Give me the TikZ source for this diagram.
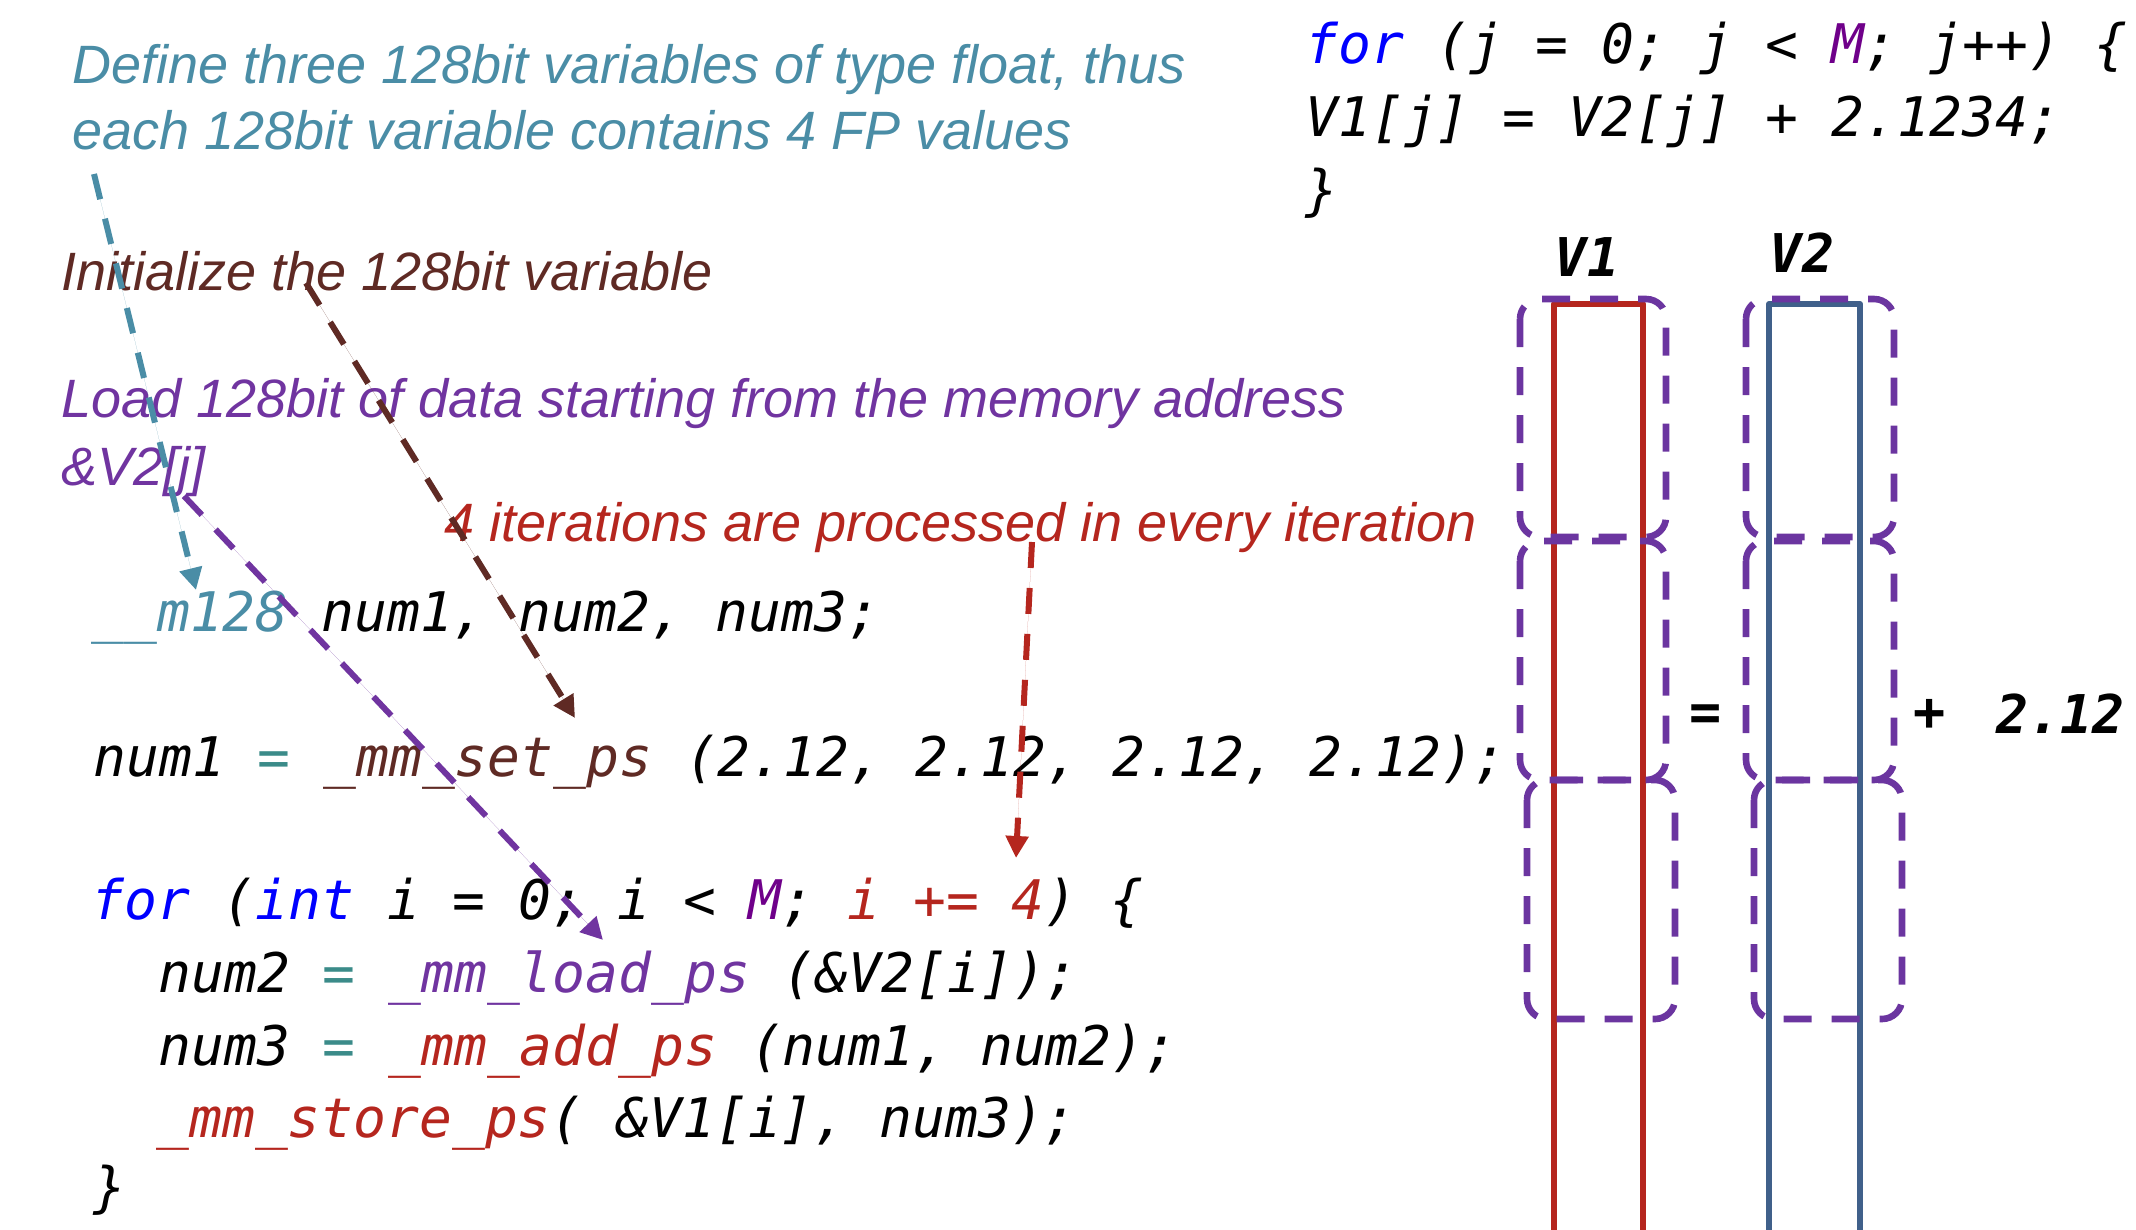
\documentclass[tikz,border=0pt]{standalone}
\usepackage{fontspec}
\setmainfont{Liberation Sans}
\newfontfamily\codefont{DejaVu Sans Mono}[ItalicFont={DejaVu Sans Mono Oblique},BoldFont={DejaVu Sans Mono Bold},BoldItalicFont={DejaVu Sans Mono Bold Oblique}]
\usetikzlibrary{arrows.meta}

\definecolor{noteteal}{HTML}{4A8DA6}
\definecolor{opteal}{HTML}{3B8B89}
\definecolor{notebrown}{HTML}{5F2A24}
\definecolor{notepurple}{HTML}{7034A0}
\definecolor{notered}{HTML}{B5261E}
\definecolor{kwblue}{HTML}{0000FF}
\definecolor{macropurple}{HTML}{6F008A}
\definecolor{colblue}{HTML}{40608A}
\definecolor{lanepurple}{HTML}{6B35A0}

\tikzset{
  note/.style={anchor=base west, inner sep=0pt, font=\fontsize{27}{32}\selectfont\itshape},
  codeline/.style={anchor=base west, inner sep=0pt, font=\codefont\fontsize{27.3}{32}\selectfont\itshape},
  boldcode/.style={anchor=base, inner sep=0pt, font=\codefont\fontsize{26.7}{32}\selectfont\bfseries\itshape},
  callout/.style={line width=3pt, dash pattern=on 13pt off 10pt, -{Triangle[length=11pt,width=11pt]}},
  lane/.style={draw=lanepurple, line width=3.3pt, dash pattern=on 14pt off 10pt, rounded corners=10pt},
  column/.style={line width=3pt, line join=round}
}

\begin{document}
\begin{tikzpicture}[x=0.5pt,y=-0.5pt]
\useasboundingbox (0,0) rectangle (2136,1230);

% explanatory notes
\node[note, text=noteteal] (def1) at (72,84) {Define three 128bit variables of type float, thus};
\node[note, text=noteteal] (def2) at (72,150) {each 128bit variable contains 4 FP values};
\node[note, text=notebrown] (init) at (61,291) {Initialize the 128bit variable};
\node[note, text=notepurple] (load1) at (61,417) {Load 128bit of data starting from the memory address};
\node[note, text=notepurple] (load2) at (61,485) {\&V2[j]};
\node[note, text=notered] (iter) at (444,541) {4 iterations are processed in every iteration};

% scalar loop
\node[codeline] (sc1) at (1305,64) {\textcolor{kwblue}{for} (j = 0; j < \textcolor{macropurple}{M}; j++) \{};
\node[codeline] (sc2) at (1305,137) {V1[j] = V2[j] + 2.1234;};
\node[codeline] (sc3) at (1305,210) {\}};

% SSE version
\node[codeline] (c1) at (91,631) {\textcolor{noteteal}{\_\_m128} num1, num2, num3;};
\node[codeline] (c2) at (93,776) {num1 \textcolor{opteal}{=} \textcolor{notebrown}{\_mm\_set\_ps} (2.12, 2.12, 2.12, 2.12);};
\node[codeline] (c3) at (91,919) {\textcolor{kwblue}{for} (\textcolor{kwblue}{int} i = 0; i < \textcolor{macropurple}{M}; \textcolor{notered}{i += 4}) \{};
\node[codeline] (c4) at (158,992) {num2 \textcolor{opteal}{=} \textcolor{notepurple}{\_mm\_load\_ps} (\&V2[i]);};
\node[codeline] (c5) at (158,1065) {num3 \textcolor{opteal}{=} \textcolor{notered}{\_mm\_add\_ps} (num1, num2);};
\node[codeline] (c6) at (156,1137) {\textcolor{notered}{\_mm\_store\_ps}( \&V1[i], num3);};
\node[codeline] (c7) at (93,1206) {\}};

% arrays V1 and V2
\draw[column, draw=notered] (1554,1260) -- (1554,304) -- (1643,304) -- (1643,1260);
\draw[column, draw=colblue] (1769,1260) -- (1769,304) -- (1860,304) -- (1860,1260);

% groups of four elements
\draw[lane] (1520,299) rectangle (1666,537);
\draw[lane] (1520,541) rectangle (1666,780);
\draw[lane] (1527,780) rectangle (1675,1019);
\draw[lane] (1746,299) rectangle (1894,537);
\draw[lane] (1746,541) rectangle (1894,780);
\draw[lane] (1754,780) rectangle (1902,1019);

\node[boldcode] (v1) at (1587,277) {V1};
\node[boldcode] (v2) at (1802,272) {V2};
\node[boldcode] (eq) at (1706,730) {=};
\node[boldcode] (plus) at (1930,730) {+};
\node[boldcode, anchor=base west] (cst) at (1996,733) {2.12};

% callout arrows
\coordinate (defTail) at (94,174);
\coordinate (defTip) at (196,590);
\coordinate (initTail) at (306,283);
\coordinate (initTip) at (575,718);
\coordinate (loadTail) at (184,496);
\coordinate (loadTip) at (603,940);
\coordinate (iterTail) at (1032,542);
\coordinate (iterTip) at (1016,858);
\draw[callout, draw=noteteal, fill=noteteal] (defTail) -- (defTip);
\draw[callout, draw=notebrown, fill=notebrown] (initTail) -- (initTip);
\draw[callout, draw=notepurple, fill=notepurple] (loadTail) -- (loadTip);
\draw[callout, draw=notered, fill=notered] (iterTail) -- (iterTip);
\end{tikzpicture}
\end{document}
